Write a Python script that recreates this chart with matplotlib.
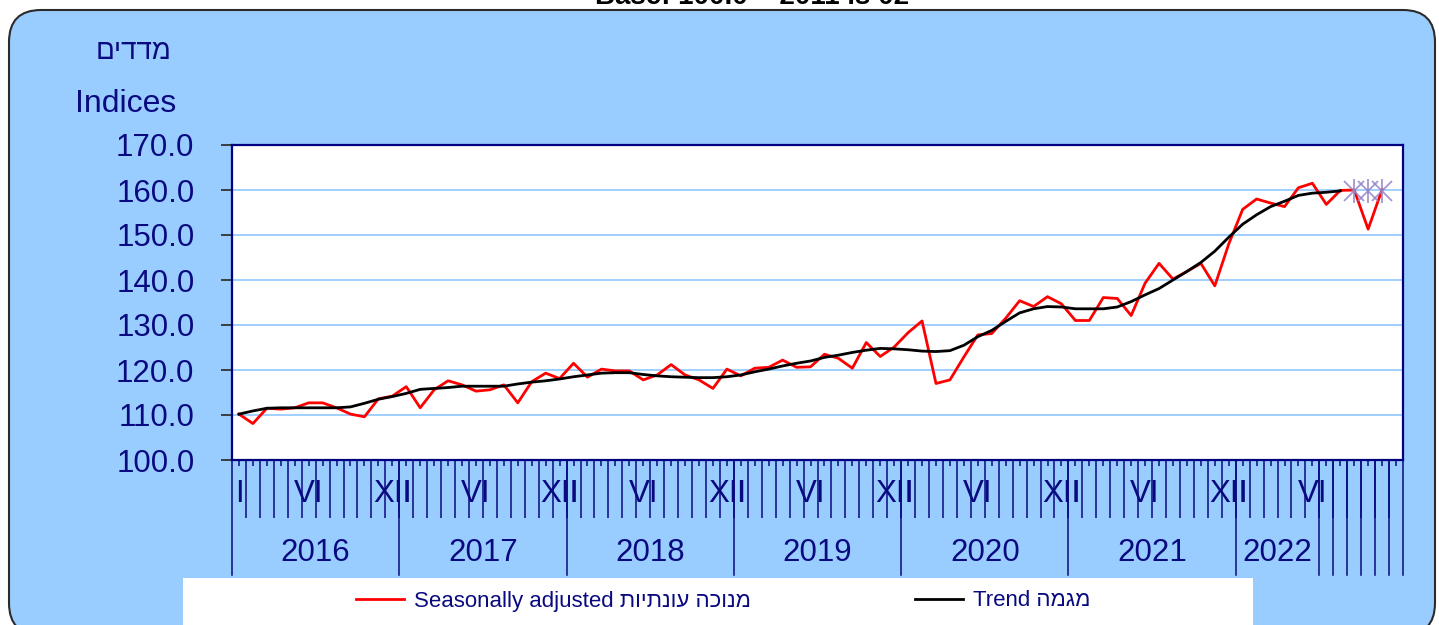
import numpy as np
import matplotlib
matplotlib.use('Agg')
import matplotlib.pyplot as plt
from matplotlib.patches import FancyBboxPatch, Rectangle
import matplotlib.transforms as mtransforms

plt.rcParams['font.family'] = ['Liberation Sans', 'DejaVu Sans']

# ---------------- data ----------------
years = ['2016', '2017', '2018', '2019', '2020', '2021', '2022']
month_names = {0: 'I', 5: 'VI', 11: 'XII'}

seasonally_adjusted = [
    110.2, 108.1, 111.5, 111.3, 111.6, 112.7, 112.7, 111.6, 110.2, 109.6, 113.6, 114.2,
    116.3, 111.6, 115.6, 117.6, 116.7, 115.3, 115.6, 116.7, 112.7, 117.4, 119.3, 118.1,
    121.5, 118.4, 120.2, 119.8, 119.8, 117.8, 118.9, 121.2, 118.9, 117.8, 115.9, 120.2,
    118.7, 120.4, 120.6, 122.2, 120.6, 120.7, 123.5, 122.6, 120.4, 126.1, 123.0, 125.1,
    128.3, 130.9, 117.0, 117.8, 122.9, 127.8, 128.1, 131.5, 135.4, 134.1, 136.3, 134.7,
    131.0, 131.0, 136.1, 135.9, 132.1, 139.3, 143.7, 140.2, 141.9, 143.7, 138.7, 148.0,
    155.7, 158.0, 157.1, 156.3, 160.5, 161.5, 156.8, 159.9, 160.0, 151.3, 160.1,
]

trend = [
    110.2, 110.9, 111.5, 111.6, 111.6, 111.6, 111.6, 111.6, 111.8, 112.6, 113.5, 114.1,
    114.8, 115.7, 115.9, 116.1, 116.4, 116.4, 116.4, 116.4, 116.9, 117.3, 117.6, 118.0,
    118.5, 118.9, 119.3, 119.4, 119.4, 119.0, 118.7, 118.5, 118.4, 118.3, 118.3, 118.5,
    118.9, 119.6, 120.2, 120.9, 121.5, 122.0, 122.8, 123.3, 123.9, 124.4, 124.8, 124.7,
    124.5, 124.2, 124.1, 124.3, 125.5, 127.4, 128.8, 130.8, 132.7, 133.6, 134.1, 134.0,
    133.6, 133.6, 133.6, 134.0, 135.2, 136.7, 138.1, 140.0, 141.9, 143.9, 146.4, 149.5,
    152.4, 154.5, 156.3, 157.5, 158.8, 159.3, 159.5, 159.8,
]

flag_months = [80, 81, 82]
flag_values = [159.7, 159.7, 159.7]

n_months = 84
y_ticks = [100, 110, 120, 130, 140, 150, 160, 170]

label_sa = 'Seasonally adjusted ' + 'מנוכה עונתיות'[::-1]
label_tr = 'Trend ' + 'מגמה'[::-1]
label_idx_he = 'מדדים'[::-1]

# ---------------- figure ----------------
W, H = 1439, 625
NAVY = '#0A0A80'
fig = plt.figure(figsize=(W / 100, H / 100), dpi=100)
fig.patch.set_facecolor('white')

bg = fig.add_axes([0, 0, 1, 1], zorder=0)
bg.set_xlim(0, W)
bg.set_ylim(H, 0)
bg.axis('off')
panel = FancyBboxPatch((9, 10), 1426, 625, boxstyle='round,pad=0,rounding_size=32',
                       fc='#99CCFF', ec='#2b2b2b', lw=1.5)
bg.add_patch(panel)
bg.text(752, 4, 'Base: 100.0 = 2011 is 02', ha='center', va='baseline',
        fontsize=20, fontweight='bold', color='black')
bg.add_patch(Rectangle((183, 578), 1070, 60, fc='white', ec='none'))

bg.text(133.5, 52, label_idx_he, ha='center', va='center', fontsize=20, color=NAVY)
bg.text(75, 104, 'Indices', ha='left', va='center', fontsize=23, color=NAVY)

ax = fig.add_axes([232 / W, (H - 460) / H, (1403 - 232) / W, (460 - 145) / H], zorder=2)
ax.set_facecolor('white')
ax.set_xlim(-0.5, n_months - 0.5)
ax.set_ylim(100, 170)
ax.set_yticks(y_ticks)
ax.set_yticklabels([f'{v:.1f}' for v in y_ticks])
ax.yaxis.grid(True, color='#99CCFF', lw=1.3)
ax.set_axisbelow(True)
for s in ax.spines.values():
    s.set_color('#000080')
    s.set_linewidth(1.6)
ax.tick_params(axis='y', direction='out', length=8, width=1.3, color='#333333',
               labelcolor=NAVY, labelsize=22.5, pad=19)

ax.set_xticks(range(n_months))
ax.set_xticklabels([''] * n_months)
ax.set_xticks(np.arange(0.5, n_months - 1, 1), minor=True)
ax.tick_params(axis='x', which='major', direction='out', length=4, width=1.1, color=NAVY)
ax.tick_params(axis='x', which='minor', direction='out', length=41.5, width=1.1, color=NAVY)

x = np.arange(len(seasonally_adjusted))
ax.plot(x, seasonally_adjusted, color='#FF0000', lw=2.0, zorder=3, label=label_sa)
ax.plot(np.arange(len(trend)), trend, color='black', lw=2.0, zorder=4, label=label_tr)
ax.plot(flag_months, flag_values, ls='none', marker='x', ms=15, mew=1.3,
        color='#9585C8', alpha=0.85, zorder=5)
ax.plot(flag_months, flag_values, ls='none', marker='|', ms=17, mew=1.3,
        color='#9585C8', alpha=0.85, zorder=5)

# year group separators
trans = mtransforms.blended_transform_factory(ax.transData, ax.transAxes)
bounds = [-0.5 + 12 * k for k in range(7)] + [77.5, 78.5, 79.5, 80.5, 81.5, 82.5, 83.5]
for b in bounds:
    ax.plot([b, b], [0, -(575 - 460) / 315], transform=trans, color=NAVY, lw=1.1,
            clip_on=False, zorder=1)

# month labels and year labels
ty = mtransforms.blended_transform_factory(ax.transData, fig.transFigure)
for k, yr in enumerate(years):
    months = [0, 5, 11] if k < 6 else [0, 5]
    for m in months:
        ax.text(12 * k + m, 1 - 494 / H, month_names[m], transform=ty, ha='center',
                va='center', fontsize=22.5, color=NAVY, zorder=0)
    cx = 12 * k + 5.5 if k < 6 else (71.5 + 77.5) / 2
    ax.text(cx, 1 - 553 / H, yr, transform=ty, ha='center', va='center',
            fontsize=22.5, color=NAVY)

leg = fig.legend(loc='center', bbox_to_anchor=(723.5 / W, 1 - 601 / H), ncol=2,
                 frameon=False, fontsize=16, handlelength=2.16, handletextpad=0.45,
                 columnspacing=7.4, labelcolor=NAVY)

fig.savefig('out.png', dpi=100, facecolor=fig.get_facecolor())
